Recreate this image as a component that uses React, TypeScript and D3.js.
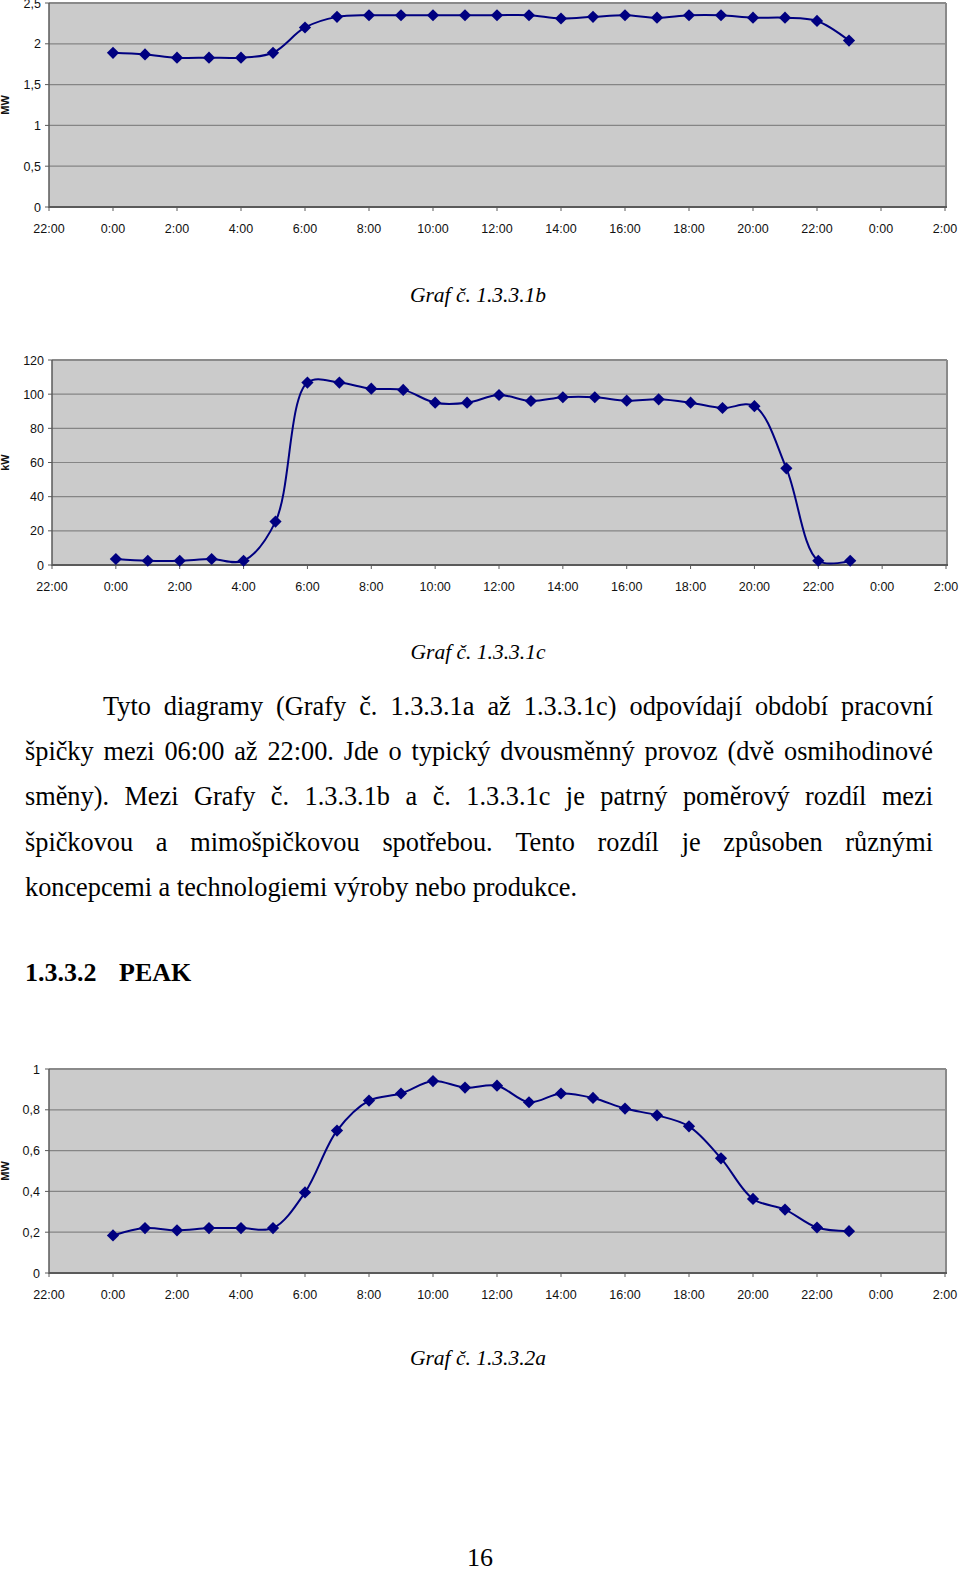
import React from "react";
import * as d3 from "d3";

// ---------- DATA ----------
const hours = [0, 1, 2, 3, 4, 5, 6, 7, 8, 9, 10, 11, 12, 13, 14, 15, 16, 17, 18, 19, 20, 21, 22, 23];
const xTickValues = [-2, 0, 2, 4, 6, 8, 10, 12, 14, 16, 18, 20, 22, 24, 26];
const xTickLabels = ["22:00", "0:00", "2:00", "4:00", "6:00", "8:00", "10:00", "12:00", "14:00", "16:00", "18:00", "20:00", "22:00", "0:00", "2:00"];

// Graf 1.3.3.1b (MW)
const seriesB = [1.89, 1.87, 1.83, 1.83, 1.83, 1.89, 2.2, 2.33, 2.35, 2.35, 2.35, 2.35, 2.35, 2.35, 2.31, 2.33, 2.35, 2.32, 2.35, 2.35, 2.32, 2.32, 2.28, 2.04];
const yTicksB = [0, 0.5, 1, 1.5, 2, 2.5];

// Graf 1.3.3.1c (kW)
const seriesC = [3.5, 2.5, 2.5, 3.5, 2.5, 25.4, 106.8, 106.8, 103.2, 102.5, 95, 95, 99.5, 96, 98.2, 98.2, 96.2, 97, 95, 91.9, 93, 56.6, 2.5, 2.5];
const yTicksC = [0, 20, 40, 60, 80, 100, 120];

// Graf 1.3.3.2a (MW)
const seriesP = [0.184, 0.22, 0.209, 0.22, 0.22, 0.22, 0.395, 0.698, 0.845, 0.88, 0.941, 0.909, 0.918, 0.837, 0.88, 0.858, 0.806, 0.773, 0.719, 0.562, 0.363, 0.311, 0.223, 0.205];
const yTicksP = [0, 0.2, 0.4, 0.6, 0.8, 1];

const paragraphLines = [
  "Tyto diagramy (Grafy č. 1.3.3.1a až 1.3.3.1c) odpovídají období pracovní",
  "špičky mezi 06:00 až 22:00. Jde o typický dvousměnný provoz (dvě osmihodinové",
  "směny). Mezi Grafy č. 1.3.3.1b a č. 1.3.3.1c je patrný poměrový rozdíl mezi",
  "špičkovou a mimošpičkovou spotřebou. Tento rozdíl je způsoben různými",
  "koncepcemi a technologiemi výroby nebo produkce.",
];

// ---------- STYLE ----------
const NAVY = "#000080";
const BG = "#cbcbcb";
const GRID = "#858585";
const AXIS = "#5a5a5a";
const SANS = "'Liberation Sans', Arial, Helvetica, sans-serif";
const SERIF = "'Liberation Serif', 'Times New Roman', serif";

const fmt = (v: number) => String(v).replace(".", ",");

type ChartProps = {
  top: number;
  bottom: number;
  left: number;
  right: number;
  yMax: number;
  yTicks: number[];
  values: number[];
  unit: string;
  labelRight: number;
};

function Chart({ top, bottom, left, right, yMax, yTicks, values, unit, labelRight }: ChartProps) {
  const x = d3.scaleLinear().domain([-2, 26]).range([left, right]);
  const y = d3.scaleLinear().domain([0, yMax]).range([bottom, top]);
  const line = d3
    .line<number>()
    .x((_, i) => x(hours[i]))
    .y((d) => y(d))
    .curve(d3.curveCatmullRom.alpha(0.5));
  const diamond = d3.symbol(d3.symbolDiamond2, 95)();
  return (
    <g>
      <rect x={left} y={top} width={right - left} height={bottom - top} fill={BG} />
      {yTicks.slice(1).map((t) => (
        <line key={"g" + t} x1={left} x2={right} y1={y(t)} y2={y(t)} stroke={GRID} strokeWidth={1.2} />
      ))}
      <line x1={left} x2={right + 1} y1={top} y2={top} stroke="#8a8a8a" strokeWidth={2} />
      <line x1={right + 1} x2={right + 1} y1={top} y2={bottom} stroke="#8a8a8a" strokeWidth={2} />
      <line x1={left} x2={left} y1={top} y2={bottom + 1} stroke={AXIS} strokeWidth={1.5} />
      <line x1={left} x2={right + 2} y1={bottom} y2={bottom} stroke={AXIS} strokeWidth={2} />
      {yTicks.map((t) => (
        <g key={"y" + t}>
          <line x1={left - 4} x2={left} y1={y(t)} y2={y(t)} stroke={AXIS} strokeWidth={1} />
          <text x={labelRight} y={y(t) + 4.5} textAnchor="end" fontFamily={SANS} fontSize={12.5} fill="#111">
            {fmt(t)}
          </text>
        </g>
      ))}
      {xTickValues.map((t, i) => (
        <g key={"x" + i}>
          <line x1={x(t)} x2={x(t)} y1={bottom} y2={bottom + 4} stroke={AXIS} strokeWidth={1} />
          <text x={x(t)} y={bottom + 26} textAnchor="middle" fontFamily={SANS} fontSize={12.5} fill="#111">
            {xTickLabels[i]}
          </text>
        </g>
      ))}
      <text
        transform={`translate(9,${(top + bottom) / 2}) rotate(-90)`}
        textAnchor="middle"
        fontFamily={SANS}
        fontSize={11}
        fontWeight="bold"
        fill="#111"
      >
        {unit}
      </text>
      <path d={line(values) || ""} fill="none" stroke={NAVY} strokeWidth={2} />
      {values.map((v, i) => (
        <path key={"m" + i} d={diamond || ""} transform={`translate(${x(hours[i])},${y(v)})`} fill={NAVY} />
      ))}
    </g>
  );
}

let measureCtx: CanvasRenderingContext2D | null = null;
function measure(text: string, font: string) {
  if (!measureCtx) {
    const c = document.createElement("canvas");
    measureCtx = c.getContext("2d");
  }
  if (!measureCtx) return text.length * 10;
  measureCtx.font = font;
  return measureCtx.measureText(text).width;
}

function Paragraph() {
  const fontSize = 26.3;
  const font = `${fontSize}px 'Liberation Serif'`;
  const rightEdge = 933;
  const baseY = 715;
  const lh = 45.2;
  return (
    <g fontFamily={SERIF} fontSize={fontSize} fill="#000">
      {paragraphLines.map((ln, li) => {
        const startX = li === 0 ? 103 : 25;
        const words = ln.split(" ");
        const isLast = li === paragraphLines.length - 1;
        if (isLast) {
          return (
            <text key={li} x={startX} y={baseY + li * lh}>
              {ln}
            </text>
          );
        }
        const widths = words.map((w) => measure(w, font));
        const total = widths.reduce((a, b) => a + b, 0);
        const gap = (rightEdge - startX - total) / (words.length - 1);
        let cx = startX;
        return (
          <g key={li}>
            {words.map((w, wi) => {
              const px = cx;
              cx += widths[wi] + gap;
              return (
                <text key={wi} x={px} y={baseY + li * lh}>
                  {w}
                </text>
              );
            })}
          </g>
        );
      })}
    </g>
  );
}

export default function App() {
  return (
    <div style={{ position: "absolute", left: 0, top: 0 }}>
      <svg width={960} height={1571} style={{ display: "block", background: "#fff" }}>
        <Chart top={3} bottom={207} left={49} right={945} yMax={2.5} yTicks={yTicksB} values={seriesB} unit="MW" labelRight={41} />
        <text x={478} y={302} textAnchor="middle" fontFamily={SERIF} fontStyle="italic" fontSize={21.5}>
          Graf č. 1.3.3.1b
        </text>

        <Chart top={360} bottom={565} left={52} right={946} yMax={120} yTicks={yTicksC} values={seriesC} unit="kW" labelRight={44} />
        <text x={478} y={659} textAnchor="middle" fontFamily={SERIF} fontStyle="italic" fontSize={21.5}>
          Graf č. 1.3.3.1c
        </text>

        <Paragraph />

        <text x={25} y={981} fontFamily={SERIF} fontWeight="bold" fontSize={26}>
          1.3.3.2
        </text>
        <text x={119} y={981} fontFamily={SERIF} fontWeight="bold" fontSize={26}>
          PEAK
        </text>

        <Chart top={1069} bottom={1273} left={49} right={945} yMax={1} yTicks={yTicksP} values={seriesP} unit="MW" labelRight={40} />
        <text x={478} y={1365} textAnchor="middle" fontFamily={SERIF} fontStyle="italic" fontSize={21.5}>
          Graf č. 1.3.3.2a
        </text>

        <text x={480} y={1566} textAnchor="middle" fontFamily={SERIF} fontSize={26}>
          16
        </text>
      </svg>
    </div>
  );
}
